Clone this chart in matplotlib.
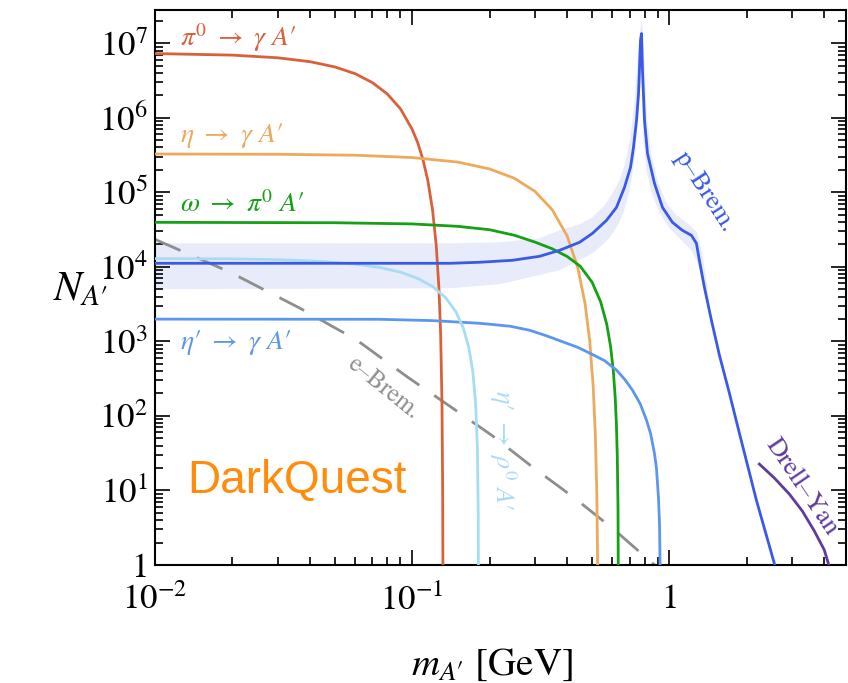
import numpy as np
import matplotlib
matplotlib.use("Agg")
import matplotlib.pyplot as plt
from matplotlib.ticker import LogLocator, FuncFormatter, NullFormatter

plt.rcParams["mathtext.fontset"] = "stix"
plt.rcParams["font.family"] = ["STIXGeneral", "DejaVu Serif"]

# ---- dark-photon yields N_A' versus mass m_A' [GeV] ----
m_pi0 = [0.01, 0.02, 0.03, 0.04, 0.05, 0.06, 0.07, 0.08, 0.09, 0.10, 0.105,
         0.11, 0.115, 0.12, 0.124, 0.127, 0.129, 0.1305, 0.1313, 0.1317]
n_pi0 = [7.28e6, 6.94e6, 6.39e6, 5.67e6, 4.82e6, 3.91e6, 2.97e6, 2.09e6,
         1.32e6, 7.0e5, 4.64e5, 2.78e5, 1.44e5, 5.75e4, 1.92e4, 5.2e3, 1.21e3,
         150, 10.8, 0.5]

m_eta = [0.01, 0.03, 0.06, 0.1, 0.15, 0.2, 0.25, 0.3, 0.35, 0.4, 0.44, 0.47,
         0.49, 0.505, 0.515, 0.522, 0.527]
n_eta = [3.27e5, 3.24e5, 3.15e5, 2.93e5, 2.55e5, 2.06e5, 1.54e5, 1.03e5,
         5.86e4, 2.61e4, 9.8e3, 3.19e3, 1.0e3, 255, 56.8, 8.8, 0.48]

m_omega = [0.01, 0.05, 0.1, 0.15, 0.2, 0.25, 0.3, 0.35, 0.4, 0.45, 0.5, 0.54,
           0.57, 0.59, 0.605, 0.615, 0.622, 0.627, 0.631, 0.6335]
n_omega = [3.96e4, 3.91e4, 3.77e4, 3.5e4, 3.15e4, 2.65e4, 2.15e4, 1.75e4,
           1.38e4, 1.02e4, 6.24e3, 3.40e3, 1.72e3, 868, 402, 183, 77, 28, 5.6,
           0.19]

m_etap = [0.01, 0.03, 0.0748, 0.12, 0.183, 0.24, 0.2862, 0.33, 0.384, 0.44,
          0.502, 0.56, 0.623, 0.67, 0.718, 0.77, 0.814, 0.845, 0.874, 0.89,
          0.906, 0.915, 0.922]
n_etap = [1.99e3, 1.985e3, 1.98e3, 1.9e3, 1.75e3, 1.6e3, 1.41e3, 1.2e3, 990,
          832, 668, 550, 411, 309, 222, 145, 88, 57.5, 31.7, 20, 8.2, 3.5, 0.5]

m_etap_rho = [0.01, 0.02, 0.03, 0.045, 0.06, 0.075, 0.09, 0.105, 0.12, 0.135,
              0.148, 0.158, 0.166, 0.172, 0.1765, 0.1792, 0.1805, 0.1809]
n_etap_rho = [1.29e4, 1.28e4, 1.25e4, 1.18e4, 1.09e4, 9.8e3, 8.5e3, 7.0e3,
              5.45e3, 3.84e3, 2.48e3, 1.51e3, 823, 392, 141, 36, 5.3, 0.5]

m_ebrem = [0.01, 0.01955, 0.0366, 0.0609, 0.0960, 0.140, 0.2037, 0.2937,
           0.4276, 0.6115, 0.89]
n_ebrem = [2.34e4, 8.5e3, 2.79e3, 1.04e3, 331, 135, 55, 20.6, 7.9, 2.95, 0.95]

m_pbrem = [0.01, 0.03656, 0.07478, 0.1398, 0.1828, 0.2456, 0.3128, 0.3739,
           0.4471, 0.5023, 0.5692, 0.6225, 0.6687, 0.7055, 0.7247, 0.7447,
           0.7581, 0.7649, 0.7718, 0.7787, 0.7856, 0.7999, 0.8215, 0.8745,
           0.9393, 1.027, 1.123, 1.217, 1.273, 1.307, 1.367, 1.456, 1.564,
           1.710, 1.870, 2.177, 2.580]
n_pbrem = [1.117e4, 1.117e4, 1.117e4, 1.117e4, 1.153e4, 1.226e4, 1.387e4,
           1.669e4, 2.137e4, 2.82e4, 4.21e4, 6.29e4, 1.167e5, 2.16e5, 4.01e5,
           9.23e5, 2.12e6, 4.74e6, 1.09e7, 1.35e7, 4.32e6, 9.23e5, 3.33e5,
           1.32e5, 6.29e4, 3.96e4, 3.09e4, 2.65e4, 2.07e4, 1.226e4, 5.33e3,
           1.92e3, 653, 202, 58.8, 7.43, 0.94]

# p-Brem uncertainty band: outer edge and inner edge, both left to right
m_band_top = [0.01, 0.1398, 0.2187, 0.3128, 0.3739, 0.4471, 0.5023, 0.5593,
              0.6006, 0.6394, 0.6748, 0.6992, 0.7182, 0.7379, 0.7513, 0.7649,
              0.7787, 0.7856, 0.7999, 0.8142, 0.8438, 0.8981, 0.9735, 1.0646,
              1.1746, 1.273, 1.3311, 1.3918, 1.456]
n_band_top = [2.07e4, 2.07e4, 2.137e4, 2.42e4, 3.09e4, 3.72e4, 4.62e4, 6.69e4,
              9.7e4, 1.448e5, 2.52e5, 4.68e5, 9.23e5, 2.33e6, 5.88e6, 1.27e7,
              2.02e7, 1.73e7, 5.88e6, 1.257e6, 3.66e5, 1.448e5, 7.12e4, 4.92e4,
              3.84e4, 3.0e4, 1.775e4, 6.61e3, 2.05e3]
m_band_bot = [0.01, 0.1398, 0.2187, 0.3739, 0.5023, 0.5848, 0.6394, 0.6808,
              0.7118, 0.7312, 0.7447, 0.7581, 0.7718, 0.7822, 0.7856, 0.7927,
              0.8142, 0.8514, 0.9146, 1.0, 1.1134, 1.217, 1.2844, 1.3431,
              1.4043, 1.456]
n_band_bot = [5.01e3, 5.17e3, 5.85e3, 9.0e3, 1.522e4, 2.42e4, 3.96e4, 7.12e4,
              1.448e5, 2.86e5, 5.81e5, 1.257e6, 2.72e6, 3.17e6, 1.257e6,
              4.98e5, 1.97e5, 1.0e5, 5.39e4, 3.29e4, 2.27e4, 1.669e4, 1.153e4,
              6.61e3, 3.35e3, 1.81e3]

m_dy = [2.236, 2.557, 2.924, 3.285, 3.657, 3.999, 4.182]
n_dy = [22.6, 14.7, 8.95, 5.30, 2.86, 1.59, 0.95]

c_pi0 = "#D8613C"
c_eta = "#ECAA5C"
c_omega = "#16A016"
c_etap = "#5C96EE"
c_rho = "#A8DCF4"
c_ebrem = "#8E8E8E"
c_pbrem = "#3A5AE6"
c_band = "#E7EBFA"
c_dy = "#5F3B9C"
c_dq = "#FF8C0A"

fig = plt.figure(figsize=(8.48, 6.83), dpi=100)
ax = fig.add_axes([0.1828, 0.1728, 0.8152, 0.8126])
ax.set_xscale("log")
ax.set_yscale("log")
ax.set_xlim(0.01, 4.87)
ax.set_ylim(1, 2.8e7)

lw = 2.0
ax.fill(m_band_top + m_band_bot[::-1], n_band_top + n_band_bot[::-1],
        color=c_band, lw=0, zorder=1)
ax.plot(m_pi0, n_pi0, color=c_pi0, lw=lw, zorder=3)
ax.plot(m_eta, n_eta, color=c_eta, lw=lw, zorder=3)
ax.plot(m_omega, n_omega, color=c_omega, lw=lw, zorder=3)
ax.plot(m_etap, n_etap, color=c_etap, lw=lw, zorder=3)
ax.plot(m_etap_rho, n_etap_rho, color=c_rho, lw=lw, zorder=3)
ax.plot(m_ebrem, n_ebrem, color=c_ebrem, lw=lw, dashes=(10, 6.5), zorder=2)
ax.plot(m_pbrem, n_pbrem, color=c_pbrem, lw=lw, zorder=3)
ax.plot(m_dy, n_dy, color=c_dy, lw=lw, zorder=3)

# curve labels
P = "\u2032"
tf = ax.transAxes
fs = 20
ax.text(0.036, 0.950, r"$\pi^0\ \rightarrow\ \gamma\ A%s$" % P, color=c_pi0,
        fontsize=fs, transform=tf, ha="left", va="center")
ax.text(0.036, 0.773, r"$\eta\ \rightarrow\ \gamma\ A%s$" % P, color=c_eta,
        fontsize=fs, transform=tf, ha="left", va="center")
ax.text(0.036, 0.649, r"$\omega\ \rightarrow\ \pi^0\ A%s$" % P, color=c_omega,
        fontsize=fs, transform=tf, ha="left", va="center")
ax.text(0.036, 0.400, r"$\eta%s\ \rightarrow\ \gamma\ A%s$" % (P, P),
        color=c_etap, fontsize=fs, transform=tf, ha="left", va="center")
ax.text(0.330, 0.318, "e\u2013Brem.", color=c_ebrem, fontsize=18,
        transform=tf, ha="center", va="center", rotation=-39)
ax.text(0.503, 0.207, r"$\eta%s\ \rightarrow\ \rho^0\ A%s$" % (P, P),
        color=c_rho, fontsize=19, transform=tf, ha="center", va="center",
        rotation=-90)
ax.text(0.795, 0.672, "p\u2013Brem.", color=c_pbrem, fontsize=19,
        transform=tf, ha="center", va="center", rotation=-57)
ax.text(0.935, 0.140, "Drell\u2013Yan", color=c_dy, fontsize=19,
        transform=tf, ha="center", va="center", rotation=-56)
ax.text(0.046, 0.151, "DarkQuest", color=c_dq, fontsize=33,
        family="Liberation Sans", transform=tf, ha="left", va="center")

# axes, ticks
def pow_fmt(v, pos):
    k = int(round(np.log10(v)))
    return "1" if k == 0 else r"$10^{%d}$" % k

for axis in (ax.xaxis, ax.yaxis):
    axis.set_major_locator(LogLocator(base=10, numticks=20))
    axis.set_minor_locator(LogLocator(base=10, subs=np.arange(2, 10), numticks=20))
    axis.set_major_formatter(FuncFormatter(pow_fmt))
    axis.set_minor_formatter(NullFormatter())

ax.tick_params(which="both", direction="in", top=True, right=True,
               labelsize=25, width=1.2, colors="black")
ax.tick_params(which="major", length=11)
ax.tick_params(which="minor", length=6)
ax.tick_params(axis="y", which="major", pad=5)
ax.tick_params(axis="x", which="major", pad=14)
for s in ax.spines.values():
    s.set_linewidth(1.5)

ax.set_xlabel(r"$m_{A%s}$ [GeV]" % P, fontsize=28, va="center")
ax.xaxis.set_label_coords(0.488, -0.180)
ax.set_ylabel(r"$N_{A%s}$" % P, fontsize=30, rotation=0, va="center",
              ha="center")
ax.yaxis.set_label_coords(-0.108, 0.495)

fig.savefig("out.png", dpi=100)
